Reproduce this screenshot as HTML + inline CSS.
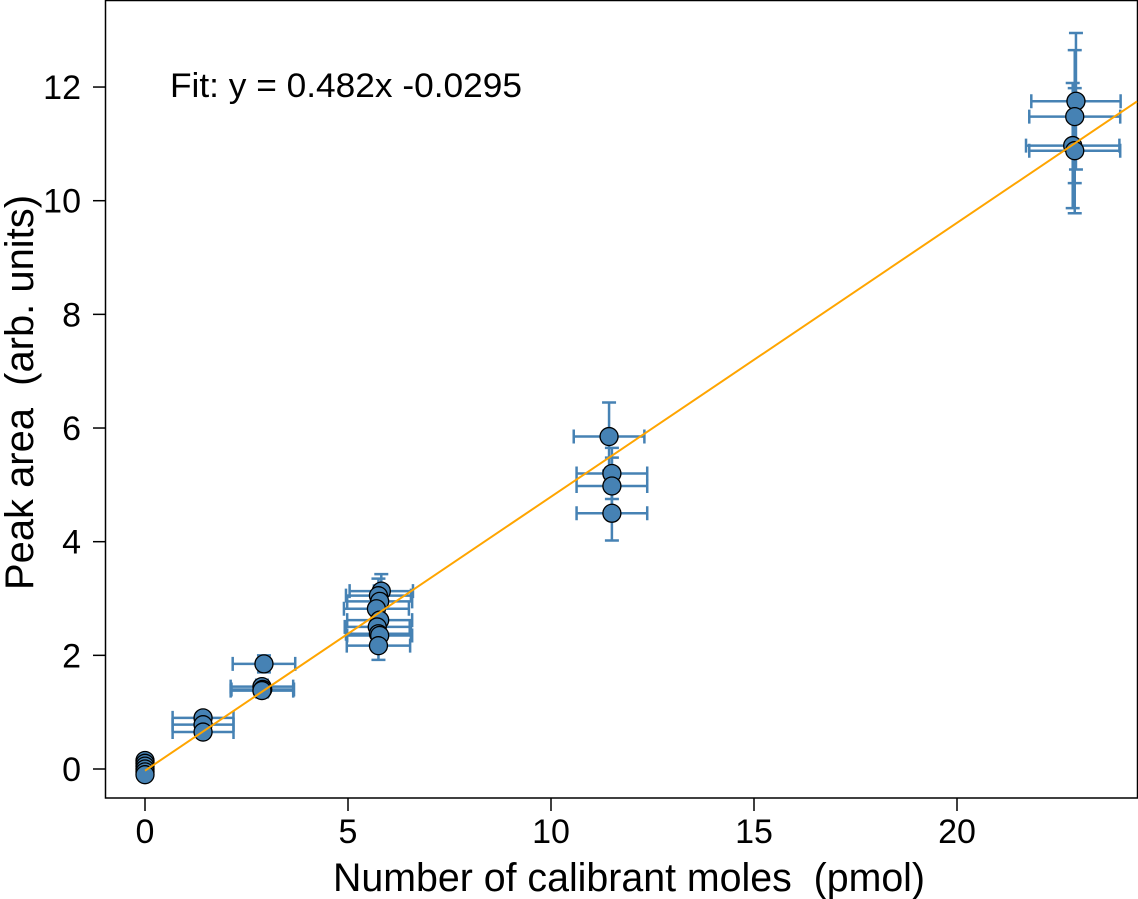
<!DOCTYPE html>
<html><head><meta charset="utf-8"><style>
html,body{margin:0;padding:0;background:#fff;}
svg{display:block;font-family:"Liberation Sans",Arial,sans-serif;}
</style></head><body>
<svg id="chart" width="1138" height="899" viewBox="0 0 1138 899" xmlns="http://www.w3.org/2000/svg">
<rect x="105.5" y="0.5" width="1032" height="797.5" fill="none" stroke="#000" stroke-width="1.5"/>
<g id="xaxis"></g>
<g id="yaxis"></g>
<g id="errs"></g>
<g id="pts"></g>
<g id="fit"></g>
<text x="170" y="97" font-size="34" textLength="352" lengthAdjust="spacingAndGlyphs">Fit: y = 0.482x -0.0295</text>
<text x="333" y="891" font-size="40" textLength="592" lengthAdjust="spacingAndGlyphs" style="white-space:pre">Number of calibrant moles  (pmol)</text>
<text transform="translate(33,590) rotate(-90)" font-size="40" textLength="395" lengthAdjust="spacingAndGlyphs" style="white-space:pre">Peak area  (arb. units)</text>
</svg>
<script>
const xTicks = [0, 5, 10, 15, 20];
const yTicks = [0, 2, 4, 6, 8, 10, 12];
const xVals = [0,0,0,0,0,0, 1.43,1.43,1.43, 2.93,2.88,2.9,2.88, 5.82,5.75,5.78,5.7,5.78,5.72,5.75,5.78,5.75, 11.43,11.5,11.5,11.5, 22.93,22.9,22.85,22.9];
const yVals = [0.15,0.1,0.05,0,-0.05,-0.1, 0.9,0.78,0.65, 1.85,1.45,1.4,1.38, 3.13,3.05,2.95,2.82,2.62,2.5,2.38,2.35,2.17, 5.85,5.2,4.98,4.5, 11.75,11.48,10.97,10.88];
const xErr = [0,0,0,0,0,0, 0.75,0.75,0.75, 0.77,0.77,0.77,0.77, 0.78,0.8,0.8,0.8,0.8,0.8,0.8,0.8,0.78, 0.87,0.87,0.87,0.87, 1.1,1.12,1.15,1.12];
const yErr = [0.05,0.05,0.05,0.05,0.05,0.05, 0.08,0.08,0.08, 0.15,0.12,0.12,0.12, 0.3,0.3,0.28,0.28,0.25,0.25,0.25,0.25,0.25, 0.6,0.45,0.5,0.48, 1.2,1.17,1.1,1.1];
const fitSlope = 0.482, fitIntercept = -0.0295;

const X0=145, XS=40.6, Y0=769, YS=56.83;
const sx = v => X0 + v*XS;
const sy = v => Y0 - v*YS;
const NS="http://www.w3.org/2000/svg";
function mk(tag, attrs, parent){const e=document.createElementNS(NS,tag);for(const k in attrs)e.setAttribute(k,attrs[k]);parent.appendChild(e);return e;}

const xa=document.getElementById('xaxis');
xTicks.forEach(t=>{
  const l=mk('line',{x1:sx(t),x2:sx(t),y1:798,y2:811,stroke:'#000','stroke-width':1.5},xa);
  
  
  const tx=mk('text',{x:sx(t),y:843,'font-size':34,'text-anchor':'middle'},xa);
  tx.textContent=t;
  
  
});
const ya=document.getElementById('yaxis');
yTicks.forEach(t=>{
  const l=mk('line',{x1:93,x2:105,y1:sy(t),y2:sy(t),stroke:'#000','stroke-width':1.5},ya);
  
  
  const tx=mk('text',{x:81,y:sy(t)+12,'font-size':34,'text-anchor':'end'},ya);
  tx.textContent=t;
  
  
});

const eg=document.getElementById('errs');
const pg=document.getElementById('pts');
const C='#4682b4';
for(let i=0;i<xVals.length;i++){
  const x=sx(xVals[i]), y=sy(yVals[i]);
  if(xErr[i]>0){
    const x1=sx(xVals[i]-xErr[i]), x2=sx(xVals[i]+xErr[i]);
    const h=mk('path',{d:`M${x1},${y}H${x2}M${x1},${y-7}V${y+7}M${x2},${y-7}V${y+7}`,stroke:C,'stroke-width':2.5,fill:'none'},eg);
    
    
  }
  const y1=sy(yVals[i]+yErr[i]), y2=sy(yVals[i]-yErr[i]);
  const v=mk('path',{d:`M${x},${y1}V${y2}M${x-7},${y1}H${x+7}M${x-7},${y2}H${x+7}`,stroke:C,'stroke-width':2.5,fill:'none'},eg);
  
  
}
for(let i=0;i<xVals.length;i++){
  const c=mk('circle',{cx:sx(xVals[i]),cy:sy(yVals[i]),r:9,fill:C,stroke:'#000','stroke-width':1.3},pg);
  
  
}
const xmax=(1137-X0)/XS;
const fl=mk('line',{x1:sx(0),y1:sy(fitIntercept),x2:sx(xmax),y2:sy(fitSlope*xmax+fitIntercept),stroke:'#ffa500','stroke-width':2},document.getElementById('fit'));


</script>
</body></html>
